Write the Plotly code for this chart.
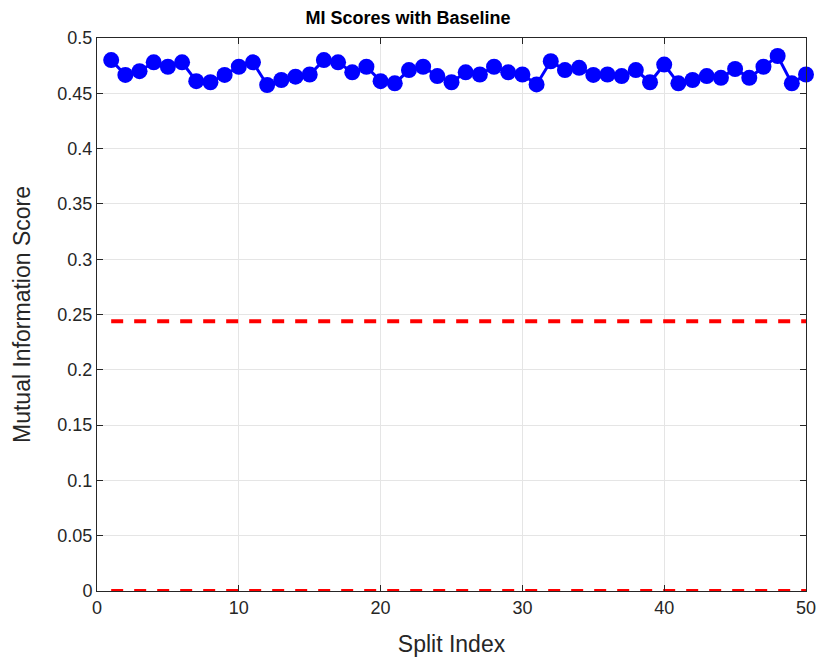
import plotly.graph_objects as go

split_index = list(range(1, 51))
mi_scores = [0.480, 0.4666, 0.470, 0.478, 0.474, 0.478, 0.461, 0.460, 0.4666, 0.474,
             0.478, 0.4575, 0.462, 0.465, 0.467, 0.480, 0.478, 0.469, 0.474, 0.461,
             0.459, 0.471, 0.474, 0.4656, 0.460, 0.469, 0.467, 0.474, 0.469, 0.467,
             0.458, 0.479, 0.471, 0.473, 0.4666, 0.467, 0.4656, 0.471, 0.460, 0.476,
             0.459, 0.462, 0.4656, 0.464, 0.472, 0.464, 0.474, 0.4837, 0.459, 0.467]
baseline_upper = 0.244
baseline_lower = 0.0
x_ticks = [0, 10, 20, 30, 40, 50]
y_ticks = [0, 0.05, 0.1, 0.15, 0.2, 0.25, 0.3, 0.35, 0.4, 0.45, 0.5]
y_tick_labels = ["0", "0.05", "0.1", "0.15", "0.2", "0.25", "0.3", "0.35", "0.4", "0.45", "0.5"]

FONT = "Liberation Sans, Arial, sans-serif"

fig = go.Figure()
fig.add_trace(go.Scatter(
    x=split_index, y=mi_scores, mode="lines+markers",
    line=dict(color="#0000ff", width=3),
    marker=dict(color="#0000ff", size=16),
    cliponaxis=False, showlegend=False))
fig.add_trace(go.Scatter(
    x=[split_index[0], split_index[-1]], y=[baseline_upper, baseline_upper], mode="lines",
    line=dict(color="#ff0000", width=4, dash="12px,11px"), showlegend=False))
fig.add_trace(go.Scatter(
    x=[split_index[0], split_index[-1]], y=[baseline_lower, baseline_lower], mode="lines",
    line=dict(color="#ff0000", width=4, dash="12px,11px"), cliponaxis=False, showlegend=False))

axis_common = dict(
    showline=True, linecolor="#262626", linewidth=1, mirror="ticks",
    ticks="inside", ticklen=6, tickcolor="#262626",
    showgrid=True, gridcolor="#e5e5e5", gridwidth=1, zeroline=False,
    ticklabeloverflow="allow", automargin=False,
    tickfont=dict(family=FONT, size=18, color="#262626"),
)

fig.update_xaxes(range=[0, 50], tickvals=x_ticks,
                 title=dict(text="Split Index", font=dict(family=FONT, size=23, color="#262626"), standoff=23),
                 **axis_common)
fig.update_yaxes(range=[0, 0.5], tickvals=y_ticks, ticktext=y_tick_labels,
                 title=dict(text="Mutual Information Score", font=dict(family=FONT, size=23, color="#262626"), standoff=20),
                 **axis_common)

fig.update_layout(
    width=816, height=657,
    margin=dict(l=97, r=10, t=38, b=66),
    paper_bgcolor="white", plot_bgcolor="white",
    title=dict(text="<b>MI Scores with Baseline</b>", x=0.5, xanchor="center", y=1 - 18 / 657, yanchor="middle",
               font=dict(family=FONT, size=18, color="#000000")),
)

fig.write_html("out.html", config={"displayModeBar": False},
               post_script="document.body.style.margin='0';")
